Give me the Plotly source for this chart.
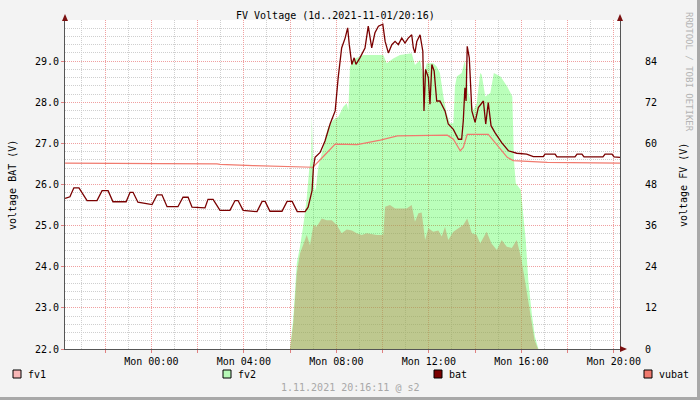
import pandas as pd
import plotly.graph_objects as go

# hours relative to Mon 2021-11-01 00:00
bat_h = [-3.73, -3.52, -3.35, -3.13, -2.78, -2.35, -2.13, -1.87, -1.66, -1.09,
         -0.92, -0.79, -0.58, 0.03, 0.25, 0.46, 0.68, 1.15, 1.37, 1.59,
         1.76, 2.32, 2.45, 2.67, 2.97, 3.40, 3.62, 3.75, 3.97, 4.57,
         4.79, 4.92, 5.13, 5.65, 5.87, 6.09, 6.31, 6.65, 6.78, 6.86,
         6.95, 7.01, 7.08, 7.30, 7.51, 7.73, 7.95, 8.08, 8.23, 8.38,
         8.49, 8.56, 8.67, 8.77, 8.85, 9.02, 9.24, 9.38, 9.46, 9.53,
         9.67, 9.82, 10.01, 10.11, 10.25, 10.40, 10.54, 10.68, 10.83, 10.97,
         11.11, 11.26, 11.33, 11.40, 11.48, 11.62, 11.74, 11.79, 11.86, 11.98,
         12.05, 12.13, 12.23, 12.34, 12.48, 12.70, 12.84, 13.06, 13.28, 13.42,
         13.49, 13.56, 13.61, 13.66, 13.75, 13.86, 14.00, 14.14, 14.36, 14.46,
         14.57, 14.69, 14.86, 15.15, 15.44, 15.80, 16.23, 16.52, 16.95, 17.02,
         17.46, 17.54, 18.32, 18.41, 18.62, 18.71, 19.53, 19.62, 19.92, 20.01,
         20.27]
bat_v = [25.66, 25.70, 25.92, 25.92, 25.61, 25.61, 25.85, 25.85, 25.58, 25.58,
         25.81, 25.81, 25.57, 25.51, 25.75, 25.75, 25.46, 25.46, 25.69, 25.69,
         25.45, 25.43, 25.64, 25.64, 25.37, 25.37, 25.61, 25.61, 25.37, 25.34,
         25.59, 25.59, 25.35, 25.35, 25.59, 25.59, 25.34, 25.34, 25.45, 25.62,
         25.85, 26.42, 26.66, 26.78, 27.06, 27.47, 27.79, 28.60, 29.32, 29.56,
         29.81, 29.40, 28.92, 29.08, 28.92, 29.08, 29.32, 29.85, 29.56, 29.32,
         29.69, 29.85, 29.90, 29.48, 29.20, 29.40, 29.48, 29.40, 29.56, 29.44,
         29.56, 29.64, 29.32, 29.20, 29.48, 29.64, 29.24, 27.79, 28.80, 28.60,
         27.95, 28.92, 28.76, 28.03, 28.03, 27.79, 27.47, 27.34, 27.10, 27.10,
         27.55, 28.35, 28.03, 29.36, 29.08, 27.79, 27.51, 27.87, 28.03, 27.47,
         27.99, 27.43, 27.26, 27.02, 26.82, 26.76, 26.74, 26.68, 26.68, 26.74,
         26.74, 26.67, 26.67, 26.74, 26.74, 26.67, 26.67, 26.74, 26.74, 26.67,
         26.66]

vubat_h = [-3.73, 0.38, 0.46, 2.84, 2.97, 4.40, 6.43, 6.99, 7.47, 7.95,
           8.90, 9.90, 10.64, 12.80, 13.06, 13.36, 13.49, 13.66, 14.57, 15.39,
           15.65, 16.51, 17.12, 20.27]
vubat_v = [26.52, 26.52, 26.51, 26.50, 26.49, 26.46, 26.42, 26.42, 26.70, 26.98,
           26.97, 27.08, 27.18, 27.20, 27.10, 26.82, 26.90, 27.22, 27.22, 26.66,
           26.58, 26.56, 26.54, 26.52]

fv2_h = [-3.73, 6.00, 6.14, 6.29, 6.43, 6.57, 6.72, 6.82, 6.91, 6.94,
         6.99, 7.06, 7.12, 7.22, 7.44, 7.65, 7.87, 8.09, 8.30, 8.45,
         8.52, 8.59, 8.81, 9.17, 10.03, 10.18, 10.46, 10.75, 11.26, 11.40,
         11.62, 11.76, 11.91, 12.19, 12.34, 12.48, 12.63, 12.77, 12.92, 13.06,
         13.13, 13.21, 13.42, 13.56, 13.71, 13.93, 14.07, 14.22, 14.29, 14.44,
         14.66, 14.81, 15.10, 15.39, 15.61, 15.68, 15.76, 15.98, 16.19, 16.30,
         16.45, 16.59, 16.74, 20.27]
fv2_v = [0, 0, 9, 25, 30, 36, 44, 52, 56, 68.3,
         55, 46, 47, 53.2, 59, 64.9, 66.8, 67.8, 70.7, 71.7,
         69.7, 82.4, 84.8, 85.8, 85.8, 83.4, 84.8, 85.8, 86.3, 82.9,
         84.3, 79.5, 83.4, 83.4, 82.4, 80.5, 73.7, 68.8, 65.9, 65.9,
         76.6, 79.5, 80.5, 84.3, 74.7, 69.7, 71.7, 80.5, 80.0, 73.7,
         74.7, 80.5, 79.5, 76.6, 73.7, 55.2, 48.4, 46.4, 31.8, 20.1,
         10.4, 3.6, 0, 0]

fv1_h = [-3.73, 6.00, 6.14, 6.29, 6.43, 6.57, 6.72, 6.86, 7.01, 7.15,
         7.37, 7.58, 7.80, 8.02, 8.23, 8.45, 8.67, 8.88, 9.10, 9.31,
         9.53, 9.75, 10.03, 10.11, 10.32, 10.54, 10.75, 11.04, 11.26, 11.40,
         11.55, 11.69, 11.84, 11.98, 12.19, 12.41, 12.56, 12.70, 12.84, 13.06,
         13.28, 13.49, 13.66, 13.86, 14.07, 14.22, 14.50, 14.71, 14.94, 15.15,
         15.37, 15.59, 15.80, 15.98, 16.13, 16.28, 16.43, 16.57, 16.72, 20.27]
fv1_v = [0, 0, 7.5, 22.1, 27.9, 30.8, 33.3, 30.3, 36.2, 35.7,
         38.1, 37.6, 37.6, 36.2, 33.8, 34.9, 34.6, 33.8, 33.3, 33.8,
         33.6, 33.3, 33.3, 41.5, 42.0, 41.0, 41.0, 41.0, 42.0, 37.1,
         39.6, 39.8, 31.8, 35.2, 34.2, 34.6, 32.8, 35.7, 31.8, 34.2,
         35.2, 36.2, 38.1, 33.8, 33.3, 30.8, 34.2, 30.8, 28.9, 31.8,
         29.8, 29.5, 31.8, 26.9, 21.1, 14.3, 7.5, 2.6, 0, 0]

bat_ticks = [22, 23, 24, 25, 26, 27, 28, 29]
fv_ticks = [0, 12, 24, 36, 48, 60, 72, 84]

base = pd.Timestamp("2021-11-01 00:00")


def to_time(hours):
    return base + pd.to_timedelta(hours, unit="h")


t_start = pd.Timestamp("2021-10-31 20:16")
t_end = pd.Timestamp("2021-11-01 20:16")
x_ticks = pd.date_range("2021-10-31 22:00", "2021-11-01 20:00", freq="2h")
x_text = [t.strftime("Mon %H:%M") if t.hour % 4 == 0 and t.day == 1 else "" for t in x_ticks]

font = "DejaVu Sans Mono"
W, H = 700, 400
L, R, T, B = 65, 80, 20, 51


def px(x):
    return (x - L) / (W - L - R)


def py(y):
    return (H - B - y) / (H - T - B)


fig = go.Figure()

fig.add_trace(go.Scatter(x=to_time(fv2_h), y=fv2_v, mode="lines", line=dict(width=0),
                         fill="tozeroy", fillcolor="rgba(0,255,0,0.27)", name="fv2", yaxis="y"))
fig.add_trace(go.Scatter(x=to_time(fv1_h), y=fv1_v, mode="lines", line=dict(width=0),
                         fill="tozeroy", fillcolor="rgba(194,145,100,0.5)", name="fv1", yaxis="y"))
fig.add_trace(go.Scatter(x=to_time(vubat_h), y=vubat_v, mode="lines",
                         line=dict(color="#f07a6e", width=1.2), name="vubat", yaxis="y2"))
fig.add_trace(go.Scatter(x=to_time(bat_h), y=bat_v, mode="lines",
                         line=dict(color="#7a0000", width=1.3), name="bat", yaxis="y2"))

major = "#f0a0a0"
minor_c = "#cfcfcf"
dots = "1px,1px"

fig.update_layout(
    width=W, height=H,
    margin=dict(l=L, r=R, t=T, b=B),
    paper_bgcolor="#f3f3f3",
    plot_bgcolor="#ffffff",
    showlegend=False,
    font=dict(family=font, size=10, color="#000"),
    xaxis=dict(
        range=[t_start, t_end], tickvals=x_ticks, ticktext=x_text,
        showgrid=True, gridcolor=major, griddash=dots, gridwidth=1,
        minor=dict(dtick=3600000, tick0="2021-11-01 00:00", showgrid=True,
                   gridcolor=minor_c, griddash=dots, gridwidth=1),
        showline=True, linecolor="#555", linewidth=1,
        ticks="outside", ticklen=3, tickcolor="#e08080",
        zeroline=False,
    ),
    yaxis=dict(
        range=[0, 96], side="right", tickvals=fv_ticks,
        showgrid=True, gridcolor=major, griddash=dots, gridwidth=1,
        minor=dict(dtick=2.4, tick0=0, showgrid=True,
                   gridcolor=minor_c, griddash=dots, gridwidth=1),
        showline=True, linecolor="#555", linewidth=1,
        ticks="", ticklabelstandoff=22, zeroline=False,
    ),
    yaxis2=dict(
        range=[22, 30], side="left", overlaying="y", tickvals=bat_ticks,
        tickformat=".1f", showgrid=False, zeroline=False,
        showline=True, linecolor="#555", linewidth=1,
        ticks="outside", ticklen=3, tickcolor="#e08080",
    ),
)

# axis arrows
arrow = "#7a1010"
shapes = [
    dict(type="path", xref="paper", yref="paper",
         path=f"M {px(62)},{py(21)} L {px(68)},{py(21)} L {px(65)},{py(14)} Z",
         fillcolor=arrow, line=dict(width=0)),
    dict(type="path", xref="paper", yref="paper",
         path=f"M {px(617)},{py(21)} L {px(623)},{py(21)} L {px(620)},{py(14)} Z",
         fillcolor=arrow, line=dict(width=0)),
    dict(type="path", xref="paper", yref="paper",
         path=f"M {px(620)},{py(346)} L {px(620)},{py(352)} L {px(627)},{py(349)} Z",
         fillcolor=arrow, line=dict(width=0)),
    # frame
    dict(type="line", xref="paper", yref="paper", x0=px(698.5), x1=px(698.5), y0=py(0), y1=py(400),
         line=dict(color="#a8a8a8", width=3)),
    dict(type="line", xref="paper", yref="paper", x0=px(0), x1=px(700), y0=py(398.5), y1=py(398.5),
         line=dict(color="#a8a8a8", width=3)),
]

legend_items = [("fv1", "#f7b6b6", 13), ("fv2", "#b6f7b6", 223), ("bat", "#7a0000", 434), ("vubat", "#f07a6e", 644)]
annotations = []
for name, col, x0 in legend_items:
    shapes.append(dict(type="rect", xref="paper", yref="paper",
                       x0=px(x0), x1=px(x0 + 8), y0=py(378), y1=py(370),
                       fillcolor=col, line=dict(color="#000", width=1)))
    annotations.append(dict(x=px(x0 + 13), y=py(374), xref="paper", yref="paper", text=name,
                            showarrow=False, xanchor="left", yanchor="middle",
                            font=dict(family=font, size=10, color="#000")))

annotations += [
    dict(x=px(335), y=py(15), xref="paper", yref="paper", text="FV Voltage (1d..2021-11-01/20:16)",
         showarrow=False, xanchor="center", yanchor="middle", font=dict(family=font, size=10)),
    dict(x=px(12), y=py(185), xref="paper", yref="paper", text="voltage BAT (V)", textangle=-90,
         showarrow=False, xanchor="center", yanchor="middle", font=dict(family=font, size=10)),
    dict(x=px(683), y=py(185), xref="paper", yref="paper", text="voltage FV (V)", textangle=-90,
         showarrow=False, xanchor="center", yanchor="middle", font=dict(family=font, size=10)),
    dict(x=px(689), y=py(72), xref="paper", yref="paper", text="RRDTOOL / TOBI OETIKER", textangle=90,
         showarrow=False, xanchor="center", yanchor="middle", font=dict(family=font, size=9, color="#b4b4b4")),
    dict(x=px(350), y=py(387), xref="paper", yref="paper", text="1.11.2021 20:16:11 @ s2",
         showarrow=False, xanchor="center", yanchor="middle", font=dict(family=font, size=10, color="#a8a8a8")),
]

fig.update_layout(shapes=shapes, annotations=annotations)

fig.write_html("out.html", config={"displayModeBar": False},
               post_script="document.body.style.margin='0';")
